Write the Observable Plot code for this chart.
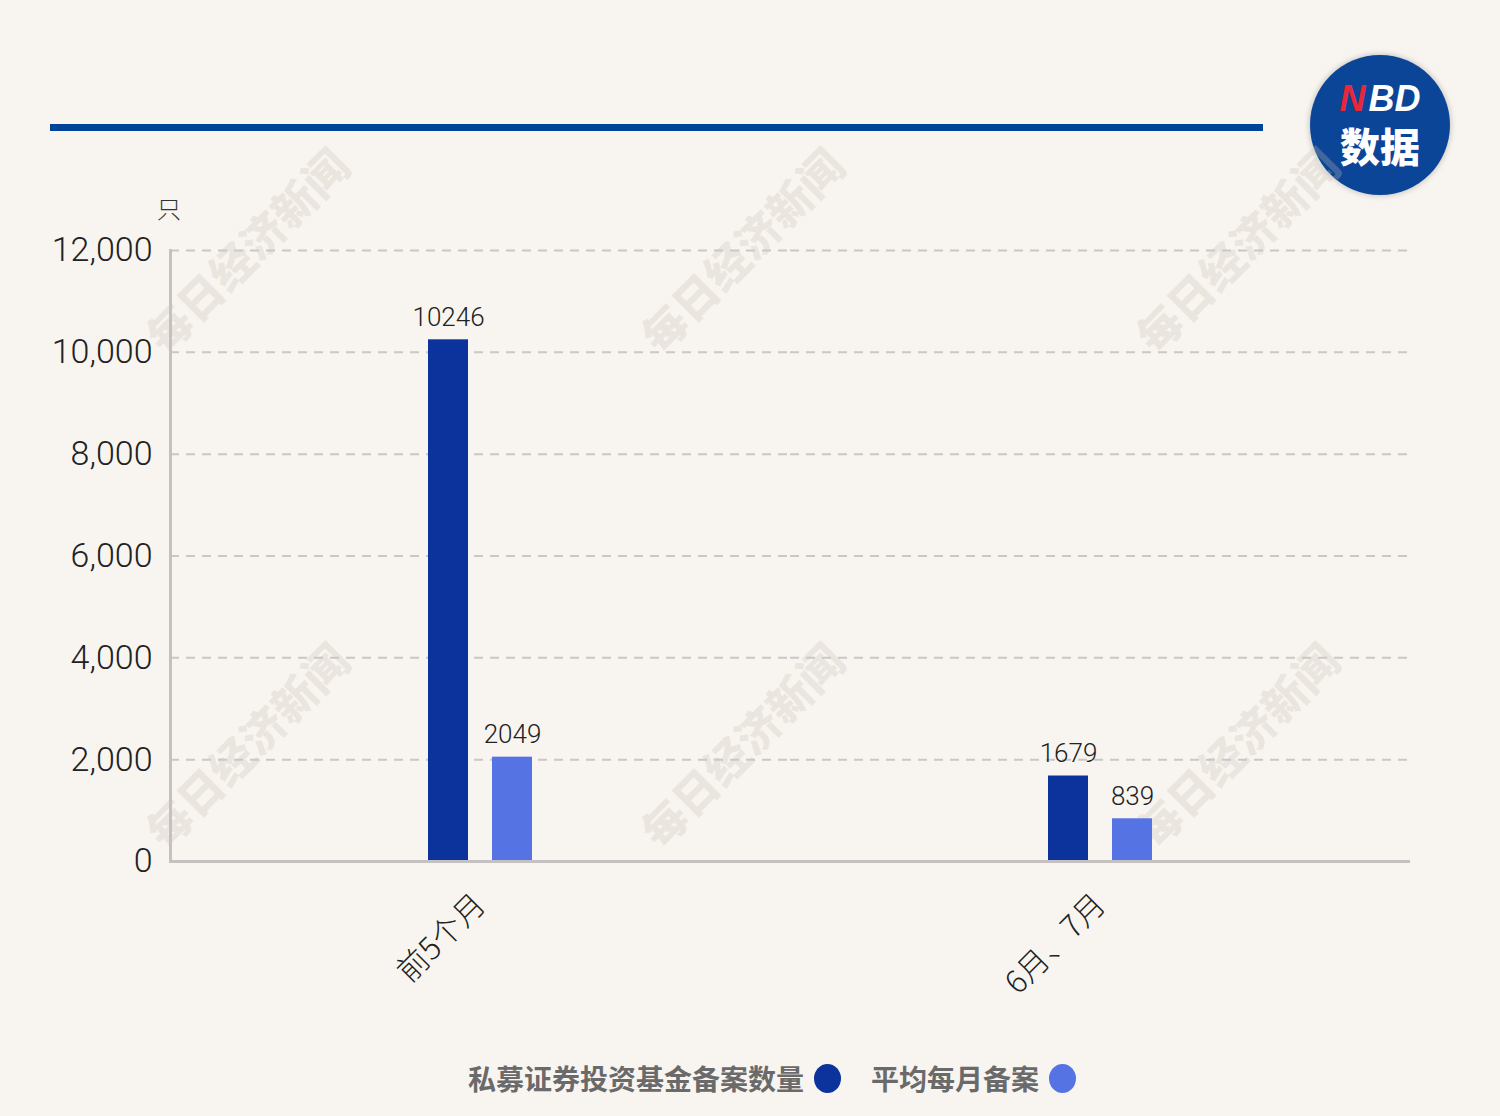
<!DOCTYPE html>
<html>
<head>
<meta charset="utf-8">
<script src="https://cdn.jsdelivr.net/npm/d3@7"></script>
<script src="https://cdn.jsdelivr.net/npm/@observablehq/plot@0.6"></script>
<style>
  html, body { margin: 0; padding: 0; background: #f8f5f0; }
  #wrap { position: relative; width: 1500px; height: 1116px; overflow: hidden; background: #f8f5f0; font-family: Roboto, "Noto Sans CJK SC", sans-serif; }
  #rule { position: absolute; left: 50px; top: 124px; width: 1213px; height: 7px; background: #00449a; }
  #logo { position: absolute; left: 1310px; top: 55px; width: 140px; height: 140px; border-radius: 50%; background: #0b4598; box-shadow: 0 0 6px rgba(0,0,0,0.25); text-align: center; color: #fff; font-family: "Liberation Sans", Arial, sans-serif; font-weight: bold; }
  #logo .nbd { position: absolute; top: 26px; left: 0; width: 140px; font-size: 36px; line-height: 36px; font-style: italic; white-space: nowrap; }
  #logo .nbd .n { color: #e8283a; display: inline-block; margin-right: 3px; }
  #logo .sj { position: absolute; top: 70px; left: 0; width: 140px; font-family: "Noto Sans CJK SC", sans-serif; font-size: 40px; font-weight: 900; line-height: 40px; }
  .wm { position: absolute; font-family: "Noto Sans CJK SC", serif; font-weight: 900; font-size: 44px; color: rgba(200,192,182,0.28); transform: rotate(-45deg); white-space: nowrap; transform-origin: center; pointer-events: none; }
  #chart { position: absolute; left: 0; top: 0; }
  #unit { position: absolute; left: 157px; top: 190px; font-family: "Noto Sans CJK SC", sans-serif; font-weight: 300; font-size: 24px; color: #333; }
  #legend { position: absolute; left: 22px; top: 1058px; width: 1500px; text-align: center; font-family: "Noto Sans CJK SC", sans-serif; font-weight: 700; font-size: 28px; color: #6a6a6a; }
  #legend span.item { display: inline-flex; align-items: center; margin: 0 15px; }
  #legend span.dot { display: inline-block; width: 27px; height: 29px; border-radius: 50%; margin-left: 10px; }
</style>
</head>
<body>
<div id="wrap">
  <div id="rule"></div>
  <div id="logo"><div class="nbd"><span class="n">N</span>BD</div><div class="sj">数据</div></div>
  <div id="chart"></div>
  <div id="unit">只</div>
  <div id="legend"></div>
</div>
<script>
const categories = ["前5个月", "6月、7月"];
const seriesNames = ["私募证券投资基金备案数量", "平均每月备案"];
const seriesColors = ["#0c329c", "#5573e3"];
const seriesA = [10246, 1679];
const seriesB = [2049, 839];
const yTicks = [0, 2000, 4000, 6000, 8000, 10000, 12000];

const data = [];
categories.forEach((c, i) => {
  data.push({cat: c, series: seriesNames[0], value: seriesA[i]});
  data.push({cat: c, series: seriesNames[1], value: seriesB[i]});
});

// watermarks
const wmPos = [[248,245],[743,245],[1238,245],[248,740],[743,740],[1238,740]];
const wrap = document.getElementById("wrap");
wmPos.forEach(([cx, cy]) => {
  const d = document.createElement("div");
  d.className = "wm";
  d.textContent = "每日经济新闻";
  d.style.left = (cx - 135) + "px";
  d.style.top = (cy - 30) + "px";
  d.style.width = "270px";
  wrap.insertBefore(d, document.getElementById("chart"));
});

const chart = Plot.plot({
  width: 1500,
  height: 1000,
  marginLeft: 170,
  marginRight: 90,
  marginTop: 250,
  marginBottom: 139,
  style: {background: "transparent", fontFamily: "Roboto, 'Noto Sans CJK SC', sans-serif", color: "#333"},
  fx: {domain: categories, padding: 0, label: null},
  x: {domain: seriesNames, paddingInner: 0.375, paddingOuter: 4.03, axis: null},
  y: {domain: [0, 12000], label: null},
  color: {domain: seriesNames, range: seriesColors},
  marks: [
    Plot.gridY(yTicks, {stroke: "#c8c8c8", strokeOpacity: 1, strokeDasharray: "9,7", strokeWidth: 2}),
    Plot.axisY(yTicks, {tickSize: 0, tickPadding: 18, fontSize: 34, fontWeight: 300, fill: "#222", tickFormat: d3.format(","), label: null}),
    Plot.axisFx({anchor: "bottom", tickRotate: -45, tickSize: 0, tickPadding: 38, fontSize: 31, fontWeight: 300, fontFamily: "'Noto Sans CJK SC', sans-serif", fill: "#222", label: null}),
    Plot.barY(data, {fx: "cat", x: "series", y: "value", fill: "series"}),
    Plot.text(data, {fx: "cat", x: "series", y: "value", text: d => String(d.value), dy: -22, fontSize: 26, fontWeight: 300, fill: "#222"}),
    Plot.ruleY([0], {stroke: "#c4c1c0", strokeWidth: 3}),
    Plot.frame({anchor: "left", facetAnchor: "left", stroke: "#c4c1c0", strokeWidth: 3})
  ]
});
document.getElementById("chart").appendChild(chart);

// legend
const legend = document.getElementById("legend");
seriesNames.forEach((n, i) => {
  const s = document.createElement("span");
  s.className = "item";
  s.innerHTML = `<span>${n}</span><span class="dot" style="background:${seriesColors[i]}"></span>`;
  legend.appendChild(s);
});
</script>
</body>
</html>
